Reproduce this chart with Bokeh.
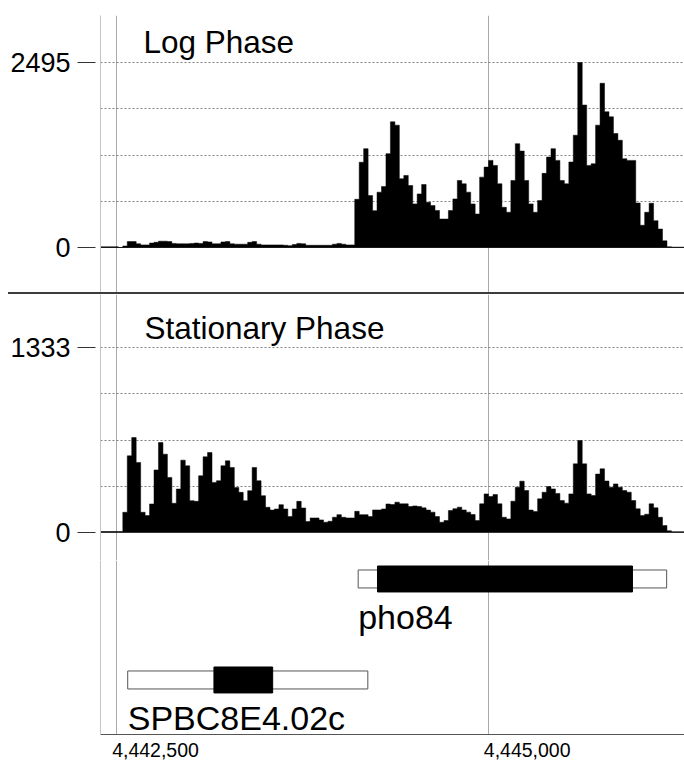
import numpy as np
from bokeh.plotting import figure
from bokeh.models import (Range1d, FixedTicker, Grid, Label, Div, ColumnDataSource)
from bokeh.layouts import column
from bokeh.embed import file_html
from bokeh.resources import INLINE
from bokeh.core.properties import value

# ---------------- data ----------------
BIN_START = 4442392      # first coverage bin (bp)
BIN_WIDTH = 30           # bp per bin

log_phase = [
    10, 10, 10, 10, 0, 20, 80, 80, 50, 35,
    35, 60, 70, 85, 85, 80, 55, 50, 50, 50,
    55, 60, 55, 80, 75, 50, 50, 75, 80, 50,
    45, 45, 45, 70, 80, 45, 35, 35, 35, 35,
    35, 30, 25, 40, 55, 50, 30, 30, 30, 30,
    30, 30, 45, 55, 45, 35, 35, 650, 1150, 1333,
    700, 497, 746, 823, 1266, 1695, 1650, 927, 972, 836,
    588, 723, 850, 610, 565, 500, 384, 384, 500, 655,
    904, 859, 746, 588, 452, 949, 1085, 1175, 1107, 859,
    542, 475, 904, 1400, 1300, 904, 588, 475, 633, 1000,
    1220, 1333, 1175, 904, 859, 1153, 1514, 2495, 1921, 1107,
    1130, 1650, 2215, 1831, 1763, 1537, 1446, 1198, 1175, 1175,
    600, 300, 475, 597, 362, 249, 90, 10, 5, 5,
    5,
]

stationary_phase = [
    5, 5, 5, 5, 5, 144, 552, 684, 504, 144,
    120, 204, 450, 648, 564, 396, 209, 312, 521, 480,
    228, 223, 408, 545, 576, 360, 372, 480, 516, 468,
    324, 288, 228, 300, 468, 372, 264, 180, 160, 168,
    199, 168, 113, 168, 223, 175, 77, 103, 103, 89,
    72, 79, 108, 127, 108, 103, 103, 151, 127, 127,
    113, 161, 161, 168, 204, 200, 217, 205, 205, 186,
    190, 186, 176, 160, 145, 113, 72, 84, 157, 170,
    181, 161, 145, 128, 84, 205, 277, 258, 272, 205,
    108, 96, 224, 325, 369, 301, 160, 150, 241, 289,
    330, 313, 280, 229, 210, 277, 494, 663, 494, 277,
    265, 420, 458, 370, 325, 349, 325, 301, 289, 229,
    169, 120, 130, 205, 176, 108, 48, 10, 3, 3,
    3,
]

track_names = ["Log Phase", "Stationary Phase"]
track_max = [2495, 1333]

gene_names = ["pho84", "SPBC8E4.02c"]
gene_rows = [1, 0]
tx_start = [4444125, 4442575]
tx_end = [4446200, 4444190]
cds_start = [4444255, 4443155]
cds_end = [4445970, 4443550]

x_ticks = [4442500, 4445000]

# ---------------- layout constants ----------------
W = 684
FRAME_LEFT = 100
BP_PER_PX = 6.726
FONT = "Liberation Sans"
X_LABEL_SHIFT_PX = 39    # tick labels sit to the right of their grid line

x_range = Range1d(BIN_START, BIN_START + (W - FRAME_LEFT) * BP_PER_PX)


def step_outline(vals):
    n = len(vals)
    edges = BIN_START + BIN_WIDTH * np.arange(n + 1)
    xs, ys = [float(edges[0])], [0.0]
    for i, v in enumerate(vals):
        xs += [float(edges[i]), float(edges[i + 1])]
        ys += [float(v), float(v)]
    xs.append(float(edges[-1]))
    ys.append(0.0)
    return xs, ys


def track(vals, vmax, name, height, top_border, zero_px, max_px, title_xy):
    frame_h = height - top_border
    upp = vmax / (zero_px - max_px)
    y0 = -(frame_h - zero_px) * upp
    y1 = vmax + max_px * upp
    p = figure(width=W, height=height, x_range=x_range, y_range=Range1d(y0, y1),
               x_axis_type=None, output_backend="svg", toolbar_location=None,
               min_border_left=FRAME_LEFT, min_border_right=0,
               min_border_top=top_border, min_border_bottom=0,
               outline_line_color=None)
    ax = p.yaxis[0]
    ax.ticker = FixedTicker(ticks=[0, vmax])
    ax.axis_line_color = "#c4c4c4"
    ax.major_tick_line_color = "#333333"
    ax.major_tick_in = -5
    ax.major_tick_out = 23
    ax.minor_tick_line_color = None
    ax.major_label_standoff = 7
    ax.major_label_text_font = FONT
    ax.major_label_text_font_size = "27px"
    ax.major_label_text_color = "black"
    p.ygrid.visible = False
    p.add_layout(Grid(dimension=0, ticker=FixedTicker(ticks=x_ticks),
                      grid_line_color="#aaaaaa"))
    p.add_layout(Grid(dimension=1,
                      ticker=FixedTicker(ticks=[vmax * k / 4 for k in (1, 2, 3, 4)]),
                      grid_line_color="#808080", grid_line_dash="2 2"))
    p.add_layout(Grid(dimension=1, ticker=FixedTicker(ticks=[0]),
                      grid_line_color="#666666"))
    xs, ys = step_outline(vals)
    p.patch(xs, ys, fill_color="black", line_color="black", line_width=0.5)
    p.add_layout(Label(x=title_xy[0], y=title_xy[1], x_units="screen", y_units="screen",
                       text=name, text_font=FONT, text_font_size="31.5px",
                       text_color="black", text_baseline="alphabetic"))
    return p


pa = track(log_phase, track_max[0], track_names[0], 292, 15, 232, 47, (43, 251))
sep = Div(width=W - 8, height=2, margin=(0, 0, 0, 8),
          styles={"background-color": "#3c3c3c"})
pb = track(stationary_phase, track_max[1], track_names[1], 266, 0, 237.7, 53.3, (44, 233))

# ---------------- gene track ----------------
pc = figure(width=W, height=201, x_range=x_range, y_range=Range1d(-0.54, 1.183),
            output_backend="svg", toolbar_location=None,
            min_border_left=FRAME_LEFT, min_border_right=0,
            min_border_top=0, min_border_bottom=27, outline_line_color=None)
label_ticks = [t + round(X_LABEL_SHIFT_PX * BP_PER_PX) for t in x_ticks]
xa = pc.xaxis[0]
xa.ticker = FixedTicker(ticks=label_ticks)
xa.major_label_overrides = {lt: f"{t:,}" for lt, t in zip(label_ticks, x_ticks)}
xa.major_tick_in = 0
xa.major_tick_out = 0
xa.minor_tick_line_color = None
xa.axis_line_color = "#555555"
xa.major_label_standoff = 8
xa.major_label_text_font = FONT
xa.major_label_text_font_size = "19.5px"
xa.major_label_text_color = "black"
ya = pc.yaxis[0]
ya.ticker = FixedTicker(ticks=[])
ya.axis_line_color = "#c4c4c4"
ya.major_tick_line_color = None
ya.minor_tick_line_color = None
pc.ygrid.visible = False
pc.xgrid.visible = False
pc.add_layout(Grid(dimension=0, ticker=FixedTicker(ticks=x_ticks),
                   grid_line_color="#aaaaaa"))

src = ColumnDataSource(dict(row=gene_rows, tx0=tx_start, tx1=tx_end,
                            c0=cds_start, c1=cds_end, name=gene_names))
pc.hbar(y="row", left="tx0", right="tx1", height=0.178, fill_color="white",
        line_color="#555555", line_width=1, source=src)
pc.hbar(y="row", left="c0", right="c1", height=0.257, fill_color="black",
        line_color="black", line_width=1, source=src)
pc.text(x="tx0", y="row", text="name", y_offset=38, source=src,
        text_font=value(FONT), text_font_size=value("34px"),
        text_baseline="alphabetic", text_align="left", text_color="black")

layout = column(pa, sep, pb, pc, spacing=0)

open("out.html", "w").write(file_html(layout, INLINE))
